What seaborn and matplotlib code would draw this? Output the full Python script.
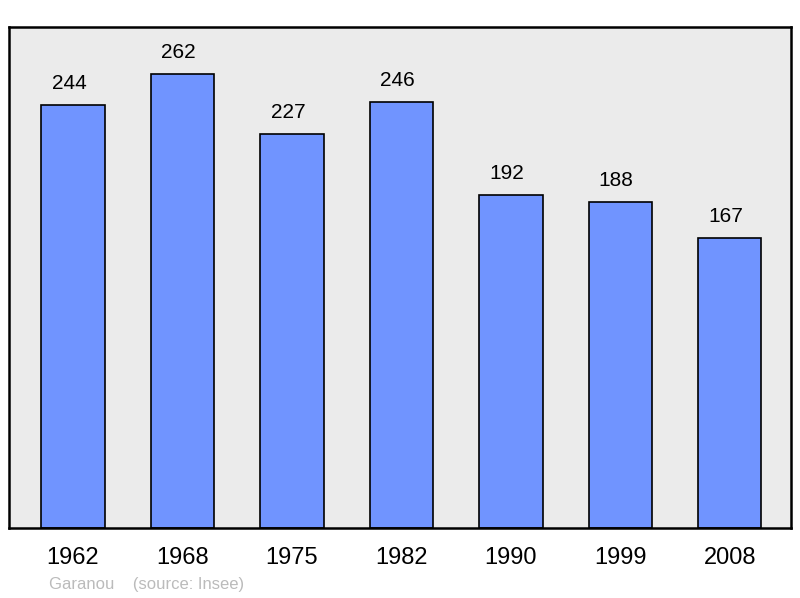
import pandas as pd
import matplotlib.pyplot as plt
import seaborn as sns

years = ["1962", "1968", "1975", "1982", "1990", "1999", "2008"]
population = [244, 262, 227, 246, 192, 188, 167]

df = pd.DataFrame({"year": years, "population": population})

sns.set_style("white")
plt.rcParams['font.family'] = ['Liberation Sans', 'DejaVu Sans']

fig = plt.figure(figsize=(8, 5.98), dpi=100)
ax = fig.add_axes([9 / 800, 70 / 598, 782 / 800, 501 / 598])
ax.set_facecolor("#ebebeb")

sns.barplot(data=df, x="year", y="population", color="#7094ff", saturation=1,
            width=0.58, edgecolor="black", linewidth=1.2, ax=ax)

# value labels, a touch left of centre like the original
for p, v in zip(ax.patches, population):
    ax.annotate(str(v), (p.get_x() + p.get_width() / 2, p.get_height()),
                xytext=(-4, 12), textcoords="offset pixels",
                ha="center", va="bottom", fontsize=15, color="black")

ax.set_xlim(-0.585, 6.56)
ax.set_ylim(0, 289)
ax.set_xlabel("")
ax.set_ylabel("")
ax.set_yticks([])
ax.tick_params(axis="x", length=0, pad=14, labelsize=17, colors="black")
for s in ax.spines.values():
    s.set_visible(True)
    s.set_color("black")
    s.set_linewidth(1.8)

fig.text(49 / 800, 1 - 584 / 598, "Garanou    (source: Insee)", fontsize=12,
         color="#bbbbbb", va="center", ha="left")

plt.savefig("out.png", dpi=100)
